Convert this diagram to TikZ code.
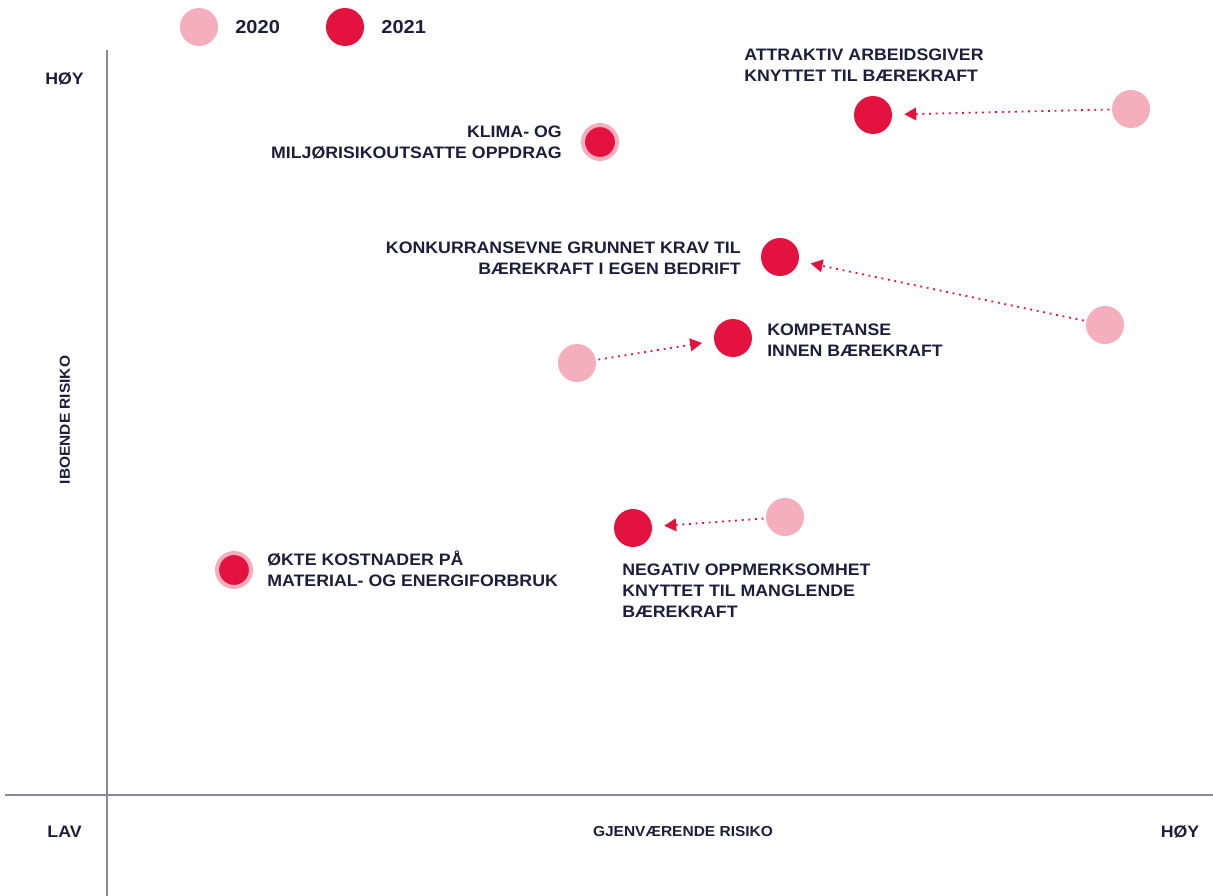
\documentclass[tikz,border=0pt]{standalone}
\usepackage{fontspec}
\setmainfont[FakeStretch=1.07]{Liberation Sans}
\usetikzlibrary{positioning}
\usetikzlibrary{arrows.meta}
\definecolor{ink}{HTML}{1E1E3C}
\definecolor{axis}{HTML}{8B8898}
\definecolor{red21}{HTML}{E4123F}
\definecolor{pink20}{HTML}{F4AEBC}
\tikzset{lbl/.style={inner sep=0pt,text=ink,font=\bfseries\fontsize{11.8}{15}\selectfont}}
\tikzset{axlbl/.style={inner sep=0pt,text=ink,font=\bfseries\fontsize{10.3}{13}\selectfont}}
\tikzset{leglbl/.style={inner sep=0pt,text=ink,font=\bfseries\fontsize{13.3}{16}\selectfont}}
\tikzset{old/.style={circle,fill=pink20,minimum size=0.95cm,inner sep=0pt}}
\tikzset{new/.style={circle,fill=red21,minimum size=0.95cm,inner sep=0pt}}
\tikzset{both/.style={circle,fill=red21,draw=pink20,line width=0.1cm,minimum size=0.85cm,inner sep=0pt}}
\tikzset{move/.style={red21,line width=1.3pt,dash pattern=on 1.3pt off 3.4pt,-{Triangle[length=8.5pt,width=9pt]},shorten >=0.3cm,shorten <=0.06cm}}

\begin{document}
\begin{tikzpicture}[x=0.025cm,y=-0.025cm]
\useasboundingbox (0,0) rectangle (1213,896);

\draw[axis,line width=1.4pt] (107,50) -- (107,896);
\draw[axis,line width=1.4pt] (5,795) -- (1213,795);

\node (leg20) [old] at (199,27) {};
\node (leg21) [new] at (345,27) {};
\node (t20) [leglbl, right = 0.42cm of leg20] {2020};
\node (t21) [leglbl, right = 0.42cm of leg21] {2021};

\node (yhi) [lbl] at (64.5,79) {HØY};
\node (ylab) [axlbl, rotate=90] at (65,420) {IBOENDE RISIKO};
\node (xlo) [lbl] at (64.5,832) {LAV};
\node (xlab) [axlbl] at (683,832) {GJENVÆRENDE RISIKO};
\node (xhi) [lbl] at (1180,832) {HØY};

\node (att20) [old] at (1131,109) {};
\node (att21) [new] at (873,115) {};
\node (attl) [lbl, align=left, anchor=west] at (744,65) {ATTRAKTIV ARBEIDSGIVER\\KNYTTET TIL BÆREKRAFT};
\draw[move] (att20) -- (att21);

\node (kli) [both] at (600,142) {};
\node (klil) [lbl, align=right, anchor=east] at (562,142.5) {KLIMA- OG\\MILJØRISIKOUTSATTE OPPDRAG};

\node (kon20) [old] at (1105,325) {};
\node (kon21) [new] at (780,257) {};
\node (konl) [lbl, align=right, anchor=east] at (741,258) {KONKURRANSEVNE GRUNNET KRAV TIL\\BÆREKRAFT I EGEN BEDRIFT};
\draw[move] (kon20) -- (kon21);

\node (kom20) [old] at (577,363) {};
\node (kom21) [new] at (733,338) {};
\node (koml) [lbl, align=left, anchor=west] at (767,340) {KOMPETANSE\\INNEN BÆREKRAFT};
\draw[move] (kom20) -- (kom21);

\node (neg20) [old] at (785,517) {};
\node (neg21) [new] at (633,528) {};
\node (negl) [lbl, align=left, anchor=west] at (622,590.5) {NEGATIV OPPMERKSOMHET\\KNYTTET TIL MANGLENDE\\BÆREKRAFT};
\draw[move] (neg20) -- (neg21);

\node (okt) [both] at (234,570) {};
\node (oktl) [lbl, align=left, anchor=west] at (267,568.5) {ØKTE KOSTNADER PÅ\\MATERIAL- OG ENERGIFORBRUK};
\end{tikzpicture}
\end{document}
